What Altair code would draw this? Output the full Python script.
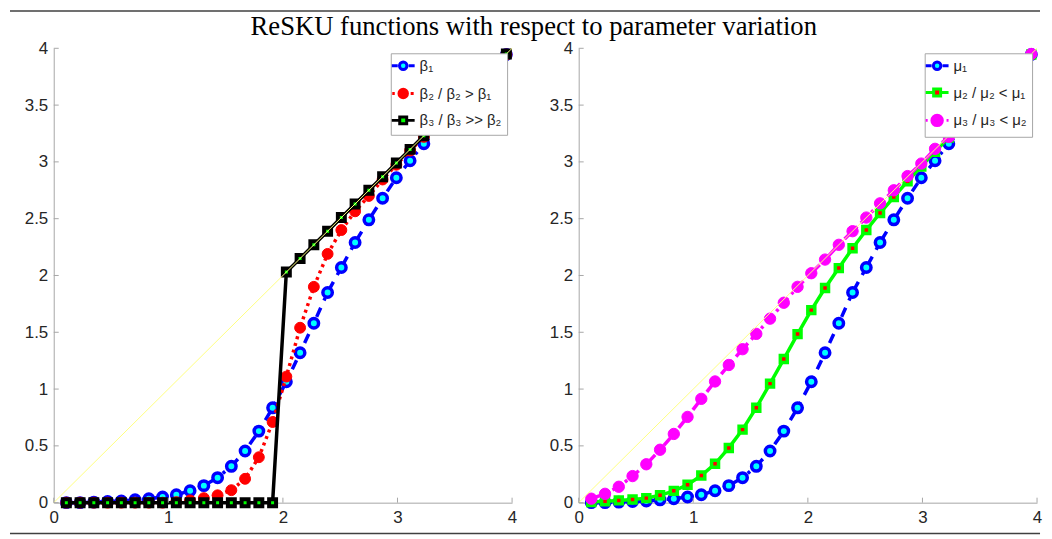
import altair as alt
import pandas as pd

# ---------------- data ----------------
X = [0.11, 0.23, 0.35, 0.47, 0.59, 0.71, 0.83, 0.95, 1.07, 1.19, 1.31,
     1.43, 1.55, 1.67, 1.79, 1.91, 2.03, 2.15, 2.27, 2.39, 2.51, 2.63,
     2.75, 2.87, 2.99, 3.11, 3.23, 3.35, 3.47, 3.59, 3.71, 3.83, 3.95]

BETA1 = [0.0, 0.0, 0.005, 0.01, 0.015, 0.025, 0.035, 0.05, 0.07, 0.105, 0.15,
         0.22, 0.32, 0.455, 0.63, 0.835, 1.065, 1.32, 1.58, 1.85, 2.07, 2.29,
         2.49, 2.68, 2.86, 3.01, 3.16, 3.30, 3.43, 3.56, 3.69, 3.82, 3.945]
BETA2 = [0.0, 0.0, 0.0, 0.0, 0.0, 0.0, 0.0, 0.0, 0.005, 0.02, 0.04,
         0.065, 0.11, 0.21, 0.40, 0.71, 1.11, 1.54, 1.90, 2.19, 2.40, 2.565,
         2.70, 2.845, 2.975, 3.10, 3.22, 3.345, 3.465, 3.585, 3.705, 3.825, 3.945]
BETA3 = [0.0, 0.0, 0.0, 0.0, 0.0, 0.0, 0.0, 0.0, 0.0, 0.0, 0.0,
         0.0, 0.0, 0.0, 0.0, 0.0, 2.03, 2.15, 2.27, 2.39, 2.51, 2.63,
         2.75, 2.87, 2.99, 3.11, 3.23, 3.35, 3.47, 3.59, 3.71, 3.83, 3.95]

MU1 = [0.0, 0.0, 0.005, 0.01, 0.015, 0.025, 0.035, 0.05, 0.07, 0.105, 0.15,
       0.22, 0.32, 0.455, 0.63, 0.835, 1.065, 1.32, 1.58, 1.85, 2.07, 2.29,
       2.49, 2.68, 2.86, 3.01, 3.16, 3.30, 3.43, 3.56, 3.69, 3.82, 3.945]
MU2 = [0.005, 0.013, 0.02, 0.028, 0.04, 0.065, 0.104, 0.157, 0.239, 0.342, 0.482,
       0.643, 0.836, 1.048, 1.264, 1.484, 1.695, 1.89, 2.065, 2.24, 2.40, 2.55,
       2.69, 2.83, 2.96, 3.09, 3.215, 3.34, 3.46, 3.585, 3.705, 3.825, 3.945]
MU3 = [0.035, 0.078, 0.14, 0.234, 0.338, 0.466, 0.605, 0.755, 0.914, 1.067, 1.212,
       1.351, 1.486, 1.62, 1.76, 1.90, 2.02, 2.14, 2.27, 2.39, 2.51, 2.635,
       2.75, 2.875, 2.985, 3.115, 3.22, 3.35, 3.47, 3.59, 3.71, 3.83, 3.95]

DIAG_X = [0, 4]
DIAG_Y = [0, 4]

X_TICKS = [0, 1, 2, 3, 4]
Y_TICKS = [0, 0.5, 1, 1.5, 2, 2.5, 3, 3.5, 4]

LEFT_LABELS = ["β₁", "β₂ / β₂ > β₁", "β₃ / β₃ >> β₂"]
RIGHT_LABELS = ["μ₁", "μ₂ / μ₂ < μ₁", "μ₃ / μ₃ < μ₂"]
TITLE = "ReSKU functions with respect to parameter variation"

# ---------------- styles ----------------
def CIRCLE(r):
    return f"M-{r},0A{r},{r},0,1,1,{r},0A{r},{r},0,1,1,-{r},0Z"


def SQUARE(h):
    return f"M-{h},-{h}H{h}V{h}H-{h}Z"


BLUE = dict(stroke="#0000ff", fill="#00ffff", shape="circle", size=90, sw=3.5,
            dash=[10, 8, 3, 8], lw=3.5,
            path="M-2.3,0H-1.1M1.1,0H2.3" + CIRCLE(0.75))
RED = dict(stroke="#ff0000", fill="#ff0000", shape="circle", size=120, sw=1,
           dash=[3, 4], lw=3.5,
           path="M-2.2,0H-1.7M1.5,0H2.1" + CIRCLE(0.85))
BLACK = dict(stroke="#000000", fill="#00ff00", shape="square", size=49, sw=4,
             dash=None, lw=3.5,
             path="M-2.3,0H-0.7M0.7,0H2.3" + SQUARE(0.7))
GREEN = dict(stroke="#00ff00", fill="#ff0000", shape="square", size=49, sw=3.5,
             dash=None, lw=3.5,
             path="M-2.3,0H-0.7M0.7,0H2.3" + SQUARE(0.7))
MAGENTA = dict(stroke="#ff00ff", fill="#ff00ff", shape="circle", size=130, sw=1,
               dash=[10, 5, 3, 5], lw=3.5,
               path="M-2.3,0H-1.9M1.9,0H2.3" + CIRCLE(1.05))

AXIS_COMMON = dict(title=None, grid=False, domainColor="#a6a6a6", domainWidth=1,
                   ticks=False, labelFont="Liberation Sans", labelFontSize=17,
                   labelColor="#262626", labelFlush=False)
x_axis = alt.Axis(values=X_TICKS, format="~g", labelPadding=7, **AXIS_COMMON)
y_axis = alt.Axis(values=Y_TICKS, format="~g", labelPadding=6, **AXIS_COMMON)

PW, PH = 461, 457
GAP = 67
TICK_COLOR = "#a6a6a6"
TICK_LEN = 5


def panel(ys, labels, styles, frame_shift=None, title=None):
    legend = alt.Legend(
        title=None, orient="top-right", offset=5, padding=5, rowPadding=7,
        symbolSize=100, symbolStrokeWidth=3, symbolOffset=0, labelOffset=9,
        labelFont="Liberation Sans", labelFontSize=15, labelColor="#262626",
        labelLimit=400, strokeColor="#a6a6a6", fillColor="white",
        symbolOpacity=1)
    xsc = alt.Scale(domain=[0, 4], nice=False)
    ysc = alt.Scale(domain=[0, 4], nice=False)
    xenc = alt.X("x:Q", scale=xsc, axis=x_axis)
    yenc = alt.Y("y:Q", scale=ysc, axis=y_axis)
    layers = []
    for y, lab, st in zip(ys, labels, styles):
        df = pd.DataFrame({"x": X, "y": y})
        base = alt.Chart(df).encode(x=xenc, y=yenc)
        lk = dict(stroke=st["stroke"], strokeWidth=st["lw"], strokeCap="butt")
        if st["dash"]:
            lk["strokeDash"] = st["dash"]
        layers.append(base.mark_line(**lk))
        layers.append(base.mark_point(shape=st["shape"], size=st["size"],
                                      stroke=st["stroke"], fill=st["fill"],
                                      strokeWidth=st["sw"], opacity=1,
                                      fillOpacity=1, strokeOpacity=1))
    # legend carrier (no visible data, explicit domains)
    empty = pd.DataFrame({"x": pd.Series([], dtype=float),
                          "y": pd.Series([], dtype=float),
                          "s": pd.Series([], dtype=str)})
    layers.append(alt.Chart(empty).mark_point(opacity=1, filled=False).encode(
        x=xenc, y=yenc,
        color=alt.Color("s:N", scale=alt.Scale(domain=labels, range=[s["stroke"] for s in styles]), legend=legend),
        fill=alt.Fill("s:N", scale=alt.Scale(domain=labels, range=[s["fill"] for s in styles]), legend=legend),
        shape=alt.Shape("s:N", scale=alt.Scale(domain=labels, range=[s["path"] for s in styles]), legend=legend),
    ))
    diag = alt.Chart(pd.DataFrame({"x": DIAG_X, "y": DIAG_Y})).mark_line(
        color="#ffff80", strokeWidth=1).encode(x=xenc, y=yenc)
    layers.append(diag)
    # inward ticks
    yt = pd.DataFrame({"y": Y_TICKS})
    xt = pd.DataFrame({"x": X_TICKS})
    layers.append(alt.Chart(yt).mark_rule(color=TICK_COLOR, strokeWidth=1).encode(
        y=alt.Y("y:Q", scale=ysc, axis=y_axis), x=alt.value(0), x2=alt.value(TICK_LEN)))
    layers.append(alt.Chart(xt).mark_rule(color=TICK_COLOR, strokeWidth=1).encode(
        x=alt.X("x:Q", scale=xsc, axis=x_axis), y=alt.value(PH), y2=alt.value(PH - TICK_LEN)))
    if frame_shift is not None:
        one = pd.DataFrame({"v": [0]})
        x0, x1 = -44 - frame_shift, 992 - frame_shift
        layers.append(alt.Chart(one).mark_rule(color="#404040", strokeWidth=1.5).encode(
            x=alt.value(x0), x2=alt.value(x1), y=alt.value(-37.5)))
        layers.append(alt.Chart(one).mark_rule(color="#404040", strokeWidth=1.5).encode(
            x=alt.value(x0), x2=alt.value(x1), y=alt.value(PH + 31)))
    props = dict(width=PW, height=PH)
    if title is not None:
        props["title"] = title
    return alt.layer(*layers).properties(**props)


title = alt.TitleParams(text=TITLE, font="Liberation Serif", fontSize=26.8,
                        fontWeight="normal", color="black", anchor="start",
                        frame="group", offset=-1, dx=198)

left = panel([BETA1, BETA2, BETA3], LEFT_LABELS, [BLUE, RED, BLACK], title=title)
right = panel([MU1, MU2, MU3], RIGHT_LABELS, [BLUE, GREEN, MAGENTA],
              frame_shift=PW + GAP)

chart = alt.hconcat(left, right, spacing=GAP, bounds="flush").resolve_scale(
    color="independent", fill="independent", shape="independent").resolve_legend(
    color="independent", fill="independent", shape="independent").properties(
    padding=0,
).configure_view(stroke="transparent")

chart.save("out.html", embed_options={"renderer": "svg", "actions": False})
